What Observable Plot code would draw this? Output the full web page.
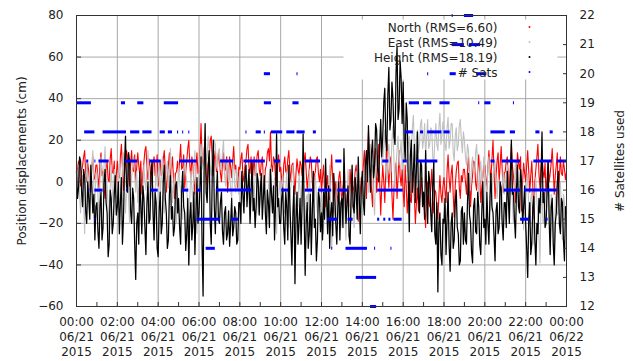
<!DOCTYPE html>
<html>
<head>
<meta charset="utf-8">
<script src="https://cdn.jsdelivr.net/npm/d3@7"></script>
<script src="https://cdn.jsdelivr.net/npm/@observablehq/plot@0.6"></script>
<style>
  html, body { margin: 0; padding: 0; background: #fff; }
</style>
</head>
<body>
<div id="chart"></div>
<script>
// Epoch spacing of the displacement series (hours since 2015-06-21 00:00 UTC)
const stepHours = 0.05;

// North displacement (cm), one value per 3-minute epoch, one row per hour
const north = [
  3, 6, 10, 2, -2, 5, 8, 12, 15, 4, 0, 9, 5, -2, -5, 7, 12, 1, 2, 8,
  8, 2, -3, 9, 14, 3, 5, -4, -8, 6, 10, 1, 0, 11, 16, 5, 4, 10, -5, 3,
  10, 4, 2, 12, 18, 7, -4, 3, 8, 15, 12, 2, -2, 9, 15, 6, 5, 13, 0, 7,
  14, 8, 3, 10, -6, 4, 9, 15, 17, 6, 1, 11, 8, 0, -3, 9, 12, 3, 6, 13,
  -2, 6, 10, 3, 4, 11, 15, 5, -5, 2, 8, 14, 0, 6, 12, 2, -8, 4, 5, 10,
  3, 10, 18, 6, 7, 13, -3, 5, 10, 16, 20, 8, 2, 12, 8, 0, -6, 7, 14, 4,
  5, 14, 28, 10, 8, 16, 18, 4, -4, 8, 12, 20, 22, 9, 3, 11, 15, 5, 6, 14,
  10, 4, 0, 9, 14, 5, 6, 12, -5, 3, 12, 7, 2, 10, 17, 6, 8, 1, -3, 7,
  6, 11, 14, 3, 0, 8, 10, 16, 18, 7, 4, 12, -2, 5, 12, 3, 7, 13, 15, 6,
  3, 9, 12, 2, -4, 6, 8, 14, 16, 10, 24, 8, 5, 12, 10, 1, -2, 8, 13, 5,
  7, 1, -3, 8, 12, 5, 4, 11, 15, 6, 0, 8, 9, 2, -6, 4, 11, 6, 3, 10,
  8, 3, 2, 10, 14, 5, -4, 2, 6, 12, 10, 0, -8, 3, 5, 11, 12, 4, 0, 6,
  -5, 2, 8, -4, -12, -2, 3, -9, -8, 4, 13, 0, -15, -5, 0, -10, -6, 2, 5, -3,
  -10, -3, 2, -8, -18, -6, -4, -12, 6, -2, -12, -4, -2, 5, 8, -7, -19, -9, -6, 2,
  0, 8, 15, 3, -8, 10, 24, 6, 5, -4, -12, 2, 10, 16, -5, 4, 18, 0, -16, -2,
  8, 0, -10, 6, 20, 5, -3, 10, 12, -6, -18, -4, 4, 9, -8, 2, 15, 3, -2, 6,
  -5, -12, 8, -2, -15, -6, 0, -9, -10, 2, 5, -8, -20, -10, -3, -14, -12, -4, 2, -8,
  -8, -14, -22, -6, 0, -10, -12, -3, 6, -8, -15, -4, -5, -12, -18, -7, 3, -6, -10, -2,
  2, -4, -10, 5, 13, 2, -5, 4, 8, -6, -17, -2, 5, 9, 10, -3, -8, 3, 0, 6,
  6, 0, -6, 5, 12, 3, -12, -2, 3, 10, 9, -1, -4, 6, 13, 2, -10, -3, 2, 8,
  8, 2, -4, 7, 15, 6, 2, 11, 20, 5, -8, 3, 10, 14, 0, 8, 17, 6, -5, 4,
  5, 10, 12, 2, -6, 7, 18, 8, 3, -3, -10, 4, 14, 9, 6, 12, -14, 0, 9, 4,
  0, 8, 15, 5, -5, 3, 10, -2, -18, 0, 6, 12, 18, 4, -3, 7, 12, 5, 2, 9,
  -8, 2, 10, 0, 4, 9, 16, 6, -6, 3, 8, 14, -12, 2, 12, 4, 3, 10, 6, 1,
  5
];

// East displacement (cm)
const east = [
  -5, 2, 8, -6, -15, -4, 3, -10, -25, -2, 10, 0, -8, 5, 0, 8, 15, -3, -12, 4,
  5, -6, -18, 0, 12, 4, -5, 8, 17, 2, -2, -12, -22, -3, 8, -4, -10, 6, 3, -8,
  -8, 2, 10, -4, -3, 6, 14, 0, -15, -5, 6, -8, -20, -6, 2, 9, 12, 3, -5, 5,
  -10, -2, 5, -10, -22, -4, 8, 0, -4, 6, 15, 2, -12, -5, 0, -14, -28, -6, 10, -2,
  2, 8, -8, 3, 12, -2, -15, -4, 6, 10, -3, 5, 16, 4, -10, -2, 4, -8, -20, -5,
  8, 0, -5, -12, -18, 2, 12, 4, 0, -20, -39, -8, 5, -3, -12, 6, 15, -6, -25, -4,
  5, 12, 18, 6, 8, 16, 20, 10, 12, 22, 15, 7, 3, 14, 10, 20, 18, 9, 6, 15,
  16, 6, 8, 14, 20, 4, -2, 8, 12, 0, 5, -4, -8, 6, 10, -2, -5, 6, 2, -6,
  -5, 2, 4, -6, -12, 0, 8, -4, -2, -10, -18, -3, 5, -2, -8, 3, 10, -6, -15, -4,
  0, -6, -10, 2, 6, -8, -20, -4, -3, 4, 8, -2, -12, -5, 2, -10, -25, -8, -6, 0,
  -8, -2, 3, -8, -15, -3, 5, -10, -22, -6, -2, 4, 8, -6, -18, -8, -5, -12, 4, -4,
  -12, -4, 2, -10, -20, -8, -6, -14, 6, -5, -28, -10, -10, -2, 3, -8, -15, -4, -2, -12,
  -10, -18, -25, -6, 2, -8, -15, -4, 8, -12, -32, -14, -5, -16, -20, -6, 0, -10, -12, -22,
  -18, -8, -4, -16, -28, -10, 6, -4, -12, -20, -2, -12, -22, -6, 5, -5, -8, -18, -15, -4,
  2, -6, -10, 4, 12, 0, -5, 8, 18, 4, 8, -8, -16, 6, 15, 2, 5, 14, 22, 8,
  10, 18, 25, 6, 0, 12, 18, 4, 5, 20, 27, 10, -5, 8, 15, 22, 8, 14, 20, 6,
  12, 20, 28, 14, 5, 18, 22, 10, 15, 26, 32, 16, 10, 22, 25, 14, 18, 28, 30, 16,
  20, 28, 12, 22, 30, 16, 18, 26, 25, 12, 8, 20, 28, 18, 15, 26, 33, 18, 22, 29,
  25, 18, 15, 26, 31, 16, 20, 28, 28, 14, 10, 22, 26, 15, 18, 27, 30, 20, 14, 24,
  20, 12, 8, 18, 15, 2, -4, 8, 12, 4, 5, 14, 18, 6, -8, 4, 10, 0, 2, 12,
  6, -2, -5, 6, 12, 0, -14, -4, 3, 8, 10, -2, -8, 2, 0, -10, -18, -4, 5, -6,
  -2, 4, 8, -6, -12, 0, 4, -10, -20, -2, 10, 0, -5, -12, -15, -4, 2, -10, -23, -6,
  -8, -2, 4, -12, -20, -8, -5, -18, -30, -6, 2, -10, -15, -26, -39, -12, -6, -20, -18, -4,
  -12, -4, 4, -14, -25, -6, -8, -20, -35, -10, -2, -16, -15, -4, 0, -12, -28, -6, -10, -18,
  -12
];

// Height displacement (cm)
const height = [
  5, -8, -3, 12, 10, -5, -12, 6, 2, -14, -20, 0, -8, -18, 8, -2, -15, -6, -28, -12,
  -10, -24, -32, -12, -5, -28, -22, 0, 6, -10, -15, -36, -30, -4, -8, -25, -20, -6, 3, -16,
  -12, 0, -25, -10, 2, -30, -18, 8, 22, -2, -5, 14, 10, -14, -20, -3, -8, -30, -47, -20,
  -15, -30, 5, -12, -25, -2, -8, -22, -35, -10, 0, -20, -18, 4, 10, -15, -28, -5, -10, -32,
  -36, -14, -5, -25, -20, 0, 8, -8, -15, -32, -28, -6, 3, -18, -12, -26, -22, -2, 0, -15,
  -8, -22, -30, -5, 5, -12, -15, -33, -25, -8, -40, -18, -10, -28, -20, -5, -35, -15, 2, -20,
  -15, -2, 12, -30, -55, 5, 28, -5, -10, 8, 15, -20, -30, 4, 20, -12, -25, -6, 5, -18,
  -20, -10, -5, -24, -30, -15, -12, -28, -25, -14, -31, -20, -8, -26, -22, -12, -15, -30, -28, -10,
  -10, -20, 5, -6, -15, 2, 8, -12, -2, 6, -20, -5, 10, -14, -8, -22, -12, 4, 0, -16,
  -5, 4, -18, -8, 3, -15, -25, -4, -10, -22, 6, -6, -15, -2, -28, -10, 23, -12, -8, -20,
  -20, -8, -3, -22, -30, -5, -12, -28, 8, -10, -25, -40, -15, -2, -49, -18, -5, -30, -20, -8,
  -30, -10, 23, -15, -45, -20, -10, -32, -25, -6, -35, -15, 5, -22, -18, -38, -28, -5, -8, -24,
  -15, -28, -5, -18, 11, -8, -25, -2, -32, -15, -10, -26, 4, -6, -20, -30, -12, 0, -28, -10,
  -8, -22, 16, -5, -20, -10, -2, -26, -30, -6, 8, -12, -15, 2, -5, -18, 12, -8, -25, -2,
  5, -10, -16, 8, 15, 0, 27, 10, -5, 14, 20, 2, 8, 28, 25, 6, 0, 18, 30, 12,
  22, 38, 45, 20, 15, 42, 55, 25, 30, 48, 40, 22, 18, 52, 65, 30, 35, 58, 50, 28,
  48, 20, 10, 38, 30, 0, -24, 12, 20, -5, 5, 18, -10, 6, 24, -8, -15, 10, 8, -12,
  -5, -18, 15, -4, -20, 5, 0, -15, -24, -2, 10, -25, -30, -10, -53, -20, -15, -35, -40, -18,
  -20, -8, -35, -18, -5, -30, -43, -20, -15, -32, -28, -10, -4, -22, -25, -40, -38, -14, -12, -30,
  -15, -28, -30, -10, 4, -16, -20, -34, -39, -12, -8, -24, -25, -5, -12, -30, -35, -15, 0, -22,
  -18, -30, -5, -20, -30, -8, 4, -12, -15, -26, -38, -14, -10, -25, -22, 0, -3, -20, -28, -10,
  -10, -22, 5, -8, -20, 2, 20, -6, -5, -18, -27, -4, 8, -12, -15, 6, 0, -20, -12, -2,
  -20, -32, -46, -18, -10, -35, -30, -12, -7, -28, -40, -20, -25, -8, -15, 0, 24, -10, -5, -22,
  -20, -5, 10, -18, -35, -12, -8, -30, -40, -20, -15, 0, 5, -20, -25, -8, -10, -28, -38, -12,
  -15
];

// Satellites used: runs of constant count (start hour, end hour, count)
const satStart = [
  18.4, 19.0,
  18.4, 19.25,
  9.2, 10.8, 17.2, 18.3, 19.6,
  0.05, 2.2, 3.0, 4.3, 9.2, 10.6, 16.3, 17.0, 17.8, 19.7, 20.0, 21.4,
  0.4, 1.3, 2.65, 3.25, 4.1, 4.5, 4.95, 5.2, 5.5, 8.3, 8.8, 9.2, 9.55, 10.3, 10.8, 11.6, 16.1, 16.85, 17.2, 18.0, 20.3, 21.25, 22.5, 23.2,
  0.5, 0.9, 1.1, 2.4, 3.6, 5.05, 7.05, 8.2, 9.7, 11.2, 12.7, 15.0, 16.0, 16.7, 20.3, 20.85, 22.4, 23.55,
  0.6, 0.9, 2.45, 3.65, 5.2, 5.9, 6.85, 10.05, 11.2, 11.85, 12.8, 14.75, 20.95, 21.95,
  0.9, 5.9, 7.6, 12.3, 13.3, 14.75, 15.05, 15.3, 15.55, 21.75, 23.0,
  6.35, 12.5, 13.2, 14.6, 15.4,
  13.7,
  14.4
];
const satEnd = [
  18.45, 19.45,
  19.0, 19.8,
  9.5, 10.85, 17.25, 18.6, 20.1,
  0.73, 2.4, 3.3, 5.0, 9.55, 10.9, 16.8, 17.4, 18.3, 19.75, 20.3, 21.45,
  0.9, 2.45, 3.1, 3.7, 4.35, 4.7, 5.0, 5.25, 5.55, 8.35, 9.05, 9.25, 10.1, 10.7, 11.2, 11.75, 16.5, 17.0, 17.9, 18.3, 21.0, 21.5, 22.7, 23.35,
  0.6, 0.95, 1.6, 3.0, 4.15, 5.9, 7.7, 9.25, 10.0, 11.95, 13.0, 15.3, 16.2, 17.7, 20.5, 21.75, 23.3, 24.0,
  0.65, 1.3, 2.5, 4.0, 5.5, 6.1, 8.6, 10.4, 11.6, 12.5, 13.3, 16.0, 21.75, 23.55,
  0.95, 7.05, 7.95, 12.8, 13.55, 14.85, 15.15, 15.4, 15.95, 22.2, 23.1,
  6.8, 12.55, 14.25, 14.65, 15.45,
  14.7,
  14.7
];
const satCount = [
  22, 22,
  21, 21,
  20, 20, 20, 20, 20,
  19, 19, 19, 19, 19, 19, 19, 19, 19, 19, 19, 19,
  18, 18, 18, 18, 18, 18, 18, 18, 18, 18, 18, 18, 18, 18, 18, 18, 18, 18, 18, 18, 18, 18, 18, 18,
  17, 17, 17, 17, 17, 17, 17, 17, 17, 17, 17, 17, 17, 17, 17, 17, 17, 17,
  16, 16, 16, 16, 16, 16, 16, 16, 16, 16, 16, 16, 16, 16,
  15, 15, 15, 15, 15, 15, 15, 15, 15, 15, 15,
  14, 14, 14, 14, 14,
  13,
  12
];

// Axis ticks and labels
const hourTicks = [0, 2, 4, 6, 8, 10, 12, 14, 16, 18, 20, 22, 24];
const timeLabels = ["00:00", "02:00", "04:00", "06:00", "08:00", "10:00", "12:00", "14:00", "16:00", "18:00", "20:00", "22:00", "00:00"];
const dateLabels = ["06/21", "06/21", "06/21", "06/21", "06/21", "06/21", "06/21", "06/21", "06/21", "06/21", "06/21", "06/21", "06/22"];
const yearLabels = ["2015", "2015", "2015", "2015", "2015", "2015", "2015", "2015", "2015", "2015", "2015", "2015", "2015"];
const minorHourTicks = d3.range(0, 25, 1);
const cmTicks = [-60, -40, -20, 0, 20, 40, 60, 80];
const satTicks = [12, 13, 14, 15, 16, 17, 18, 19, 20, 21, 22];

const legendLabels = ["North (RMS=6.60)", "East (RMS=10.49)", "Height (RMS=18.19)", "# Sats"];
const seriesColors = ["#ff0000", "#c0c0c0", "#000000", "#0000ff"];

// The satellite count shares the plot area: 12..22 sats map onto -60..80 cm
const cmDomain = [-60, 80];
const satDomain = [12, 22];
const satToCm = d3.scaleLinear().domain(satDomain).range(cmDomain);

const epochs = north.map((v, i) => ({
  t: i * stepHours,
  north: v,
  east: east[i],
  height: height[i]
}));
const satRuns = satStart.map((s, i) => ({ x1: s, x2: satEnd[i], y: satToCm(satCount[i]) }));

const tickLabel = new Map(hourTicks.map((h, i) => [h, `${timeLabels[i]}\n${dateLabels[i]}\n${yearLabels[i]}`]));

const textColor = "#222";
const gridColor = "#a8a8a8";

const chart = Plot.plot({
  width: 633,
  height: 361,
  marginTop: 15,
  marginRight: 67,
  marginBottom: 55,
  marginLeft: 76,
  style: { fontFamily: "'DejaVu Sans', sans-serif", fontSize: "12px", color: textColor, background: "#fff" },
  x: { type: "linear", domain: [0, 24] },
  y: { type: "linear", domain: cmDomain },
  marks: [
    Plot.gridX({ ticks: hourTicks, stroke: gridColor, strokeOpacity: 1 }),
    Plot.gridY({ ticks: cmTicks, stroke: gridColor, strokeOpacity: 1 }),
    // opaque key box behind the legend entries
    Plot.frame({ fill: "#fff", stroke: null, insetLeft: 267, insetRight: 9, insetTop: 4, insetBottom: 227 }),
    Plot.lineY(epochs, { x: "t", y: "north", stroke: seriesColors[0], strokeWidth: 1.1 }),
    Plot.lineY(epochs, { x: "t", y: "east", stroke: seriesColors[1], strokeWidth: 1.1 }),
    Plot.lineY(epochs, { x: "t", y: "height", stroke: seriesColors[2], strokeWidth: 1.25 }),
    Plot.ruleY(satRuns, { x1: "x1", x2: "x2", y: "y", stroke: seriesColors[3], strokeWidth: 3 }),
    // legend
    Plot.text([legendLabels.join("\n")], {
      frameAnchor: "top-right", textAnchor: "end", lineAnchor: "middle",
      lineHeight: 1.25, dx: -69, dy: 34, text: d => d, fill: textColor
    }),
    ...seriesColors.map((c, i) => Plot.dot([c], {
      frameAnchor: "top-right", dx: -37, dy: 11.5 + 15 * i, r: 1, fill: c, stroke: null
    })),
    Plot.frame({ stroke: "#333", strokeWidth: 1 }),
    // left axis (cm)
    Plot.axisY({ anchor: "left", ticks: cmTicks, tickSize: 0, tickPadding: 13, label: null, fill: textColor }),
    Plot.axisY({ anchor: "left", ticks: cmTicks, tickSize: -5, tickFormat: () => "", label: null, stroke: "#333" }),
    // right axis (satellites)
    Plot.axisY({ anchor: "right", ticks: satTicks.map(satToCm), tickSize: 0, tickPadding: 13,
      tickFormat: v => String(Math.round(satToCm.invert(v))), label: null, fill: textColor }),
    Plot.axisY({ anchor: "right", ticks: satTicks.map(satToCm), tickSize: -4, tickFormat: () => "", label: null, stroke: "#333" }),
    // time axis
    Plot.axisX({ anchor: "bottom", ticks: hourTicks, tickSize: 0, tickPadding: 9,
      tickFormat: h => tickLabel.get(h), lineHeight: 1.25, label: null, fill: textColor }),
    Plot.axisX({ anchor: "bottom", ticks: minorHourTicks, tickSize: -4, tickFormat: () => "", label: null, stroke: "#333" }),
    // axis titles
    Plot.text(["Position displacements (cm)"], { frameAnchor: "left", dx: -54, rotate: -90, textAnchor: "middle", text: d => d, fill: textColor }),
    Plot.text(["# Satellites used"], { frameAnchor: "right", dx: 54, rotate: -90, textAnchor: "middle", text: d => d, fill: textColor })
  ]
});

document.getElementById("chart").appendChild(chart);
</script>
</body>
</html>
